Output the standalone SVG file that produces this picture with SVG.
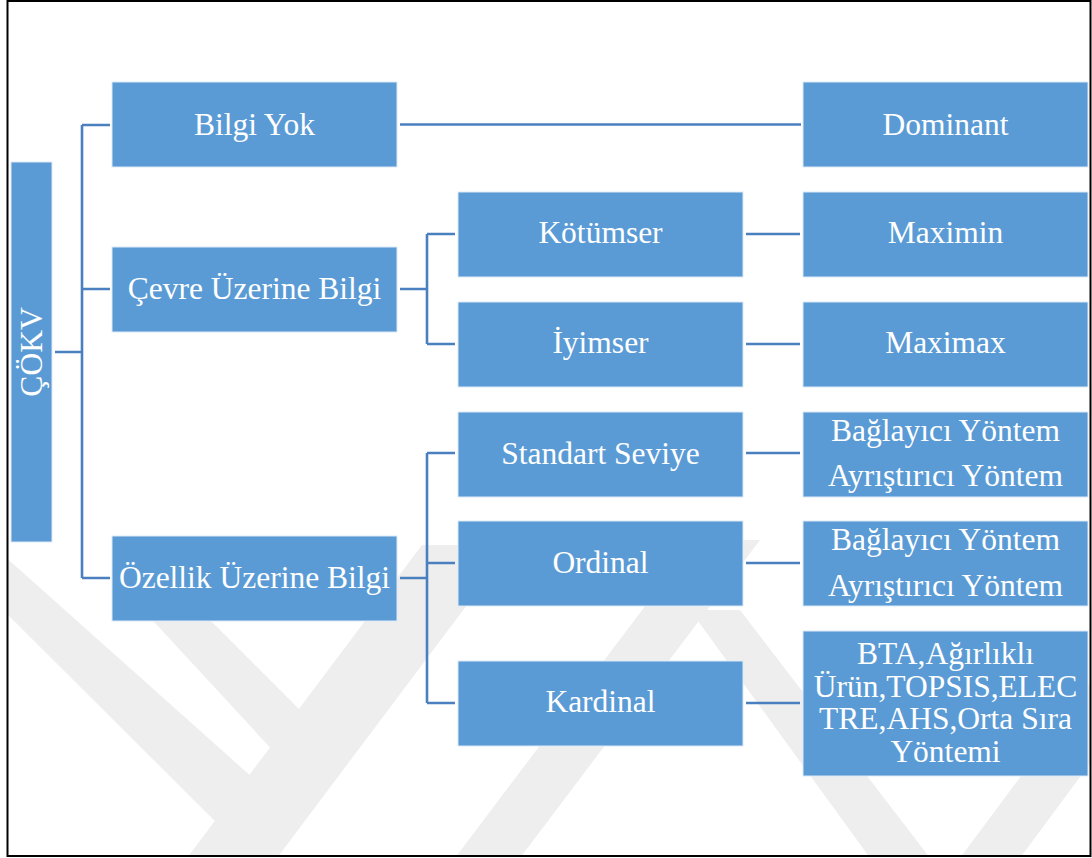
<svg xmlns="http://www.w3.org/2000/svg" width="1092" height="858" viewBox="0 0 1092 858">
  <defs>
    <style>
      .box { fill: #5B9BD5; stroke: #DCE9F6; stroke-width: 1; }
      .lbl { font-family: "Liberation Serif", "Times New Roman", serif; font-size: 31.5px; fill: #FFFFFF; text-anchor: middle; }
      .conn { fill: none; stroke: #4A80BF; stroke-width: 2.6; }
      .wm { fill: #EEEEEE; }
    </style>
    <clipPath id="frame">
      <rect x="8" y="2" width="1082" height="853"/>
    </clipPath>
  </defs>

  <rect x="0" y="0" width="1092" height="858" fill="#FFFFFF"/>

  <!-- faint background emblem -->
  <g id="watermark" clip-path="url(#frame)">
    <polygon class="wm" points="0,552 0,607 252,858 300,820"/>
    <polygon class="wm" points="120,585 175,585 335,745 300,780"/>
    <polygon class="wm" points="187,858 277,858 512,545 422,545"/>
    <polygon class="wm" points="455,858 520,858 760,540 695,540"/>
    <polygon class="wm" points="690,610 740,610 930,858 870,858"/>
    <polygon class="wm" points="960,858 1020,858 1100,750 1100,670"/>
  </g>

  <!-- outer frame -->
  <rect x="7.5" y="1" width="1083" height="855" fill="none" stroke="#000000" stroke-width="2"/>

  <g id="connectors">
    <path class="conn" d="M55,352 H82 M82,125 V578 M82,125 H110 M82,289 H110 M82,578 H110"/>
    <path class="conn" d="M400,124.5 H801"/>
    <path class="conn" d="M400,289 H427 M427,234 V344 M427,234 H455 M427,344 H455"/>
    <path class="conn" d="M746,234 H800 M746,344 H800"/>
    <path class="conn" d="M400,578 H427 M427,453 V703 M427,453 H455 M427,563 H455 M427,703 H455"/>
    <path class="conn" d="M746,453 H800 M746,563 H800 M746,703 H800"/>
  </g>

  <g id="cokv">
    <rect class="box" x="11" y="162" width="41" height="380"/>
    <text class="lbl" transform="translate(41.5,352) rotate(-90)">ÇÖKV</text>
  </g>

  <g id="bilgi-yok">
    <rect class="box" x="112" y="82" width="285" height="85"/>
    <text class="lbl" x="254.5" y="135">Bilgi Yok</text>
  </g>
  <g id="cevre-uzerine-bilgi">
    <rect class="box" x="112" y="247" width="285" height="85"/>
    <text class="lbl" x="254.5" y="299">Çevre Üzerine Bilgi</text>
  </g>
  <g id="ozellik-uzerine-bilgi">
    <rect class="box" x="112" y="536" width="285" height="85"/>
    <text class="lbl" x="254.5" y="588">Özellik Üzerine Bilgi</text>
  </g>

  <g id="kotumser">
    <rect class="box" x="458" y="192" width="285" height="85"/>
    <text class="lbl" x="600.5" y="243">Kötümser</text>
  </g>
  <g id="iyimser">
    <rect class="box" x="458" y="302" width="285" height="85"/>
    <text class="lbl" x="600.5" y="353">İyimser</text>
  </g>
  <g id="standart-seviye">
    <rect class="box" x="458" y="412" width="285" height="85"/>
    <text class="lbl" x="600.5" y="464">Standart Seviye</text>
  </g>
  <g id="ordinal">
    <rect class="box" x="458" y="521" width="285" height="85"/>
    <text class="lbl" x="600.5" y="573">Ordinal</text>
  </g>
  <g id="kardinal">
    <rect class="box" x="458" y="661" width="285" height="85"/>
    <text class="lbl" x="600.5" y="712">Kardinal</text>
  </g>

  <g id="dominant">
    <rect class="box" x="803" y="82" width="285" height="85"/>
    <text class="lbl" x="945.5" y="135">Dominant</text>
  </g>
  <g id="maximin">
    <rect class="box" x="803" y="192" width="285" height="85"/>
    <text class="lbl" x="945.5" y="243">Maximin</text>
  </g>
  <g id="maximax">
    <rect class="box" x="803" y="302" width="285" height="85"/>
    <text class="lbl" x="945.5" y="353">Maximax</text>
  </g>
  <g id="yontem-standart">
    <rect class="box" x="803" y="412" width="285" height="85"/>
    <text class="lbl" x="945.5" y="440.5">Bağlayıcı Yöntem</text>
    <text class="lbl" x="945.5" y="486">Ayrıştırıcı Yöntem</text>
  </g>
  <g id="yontem-ordinal">
    <rect class="box" x="803" y="521" width="285" height="85"/>
    <text class="lbl" x="945.5" y="550">Bağlayıcı Yöntem</text>
    <text class="lbl" x="945.5" y="596">Ayrıştırıcı Yöntem</text>
  </g>
  <g id="yontem-kardinal">
    <rect class="box" x="803" y="631" width="285" height="145"/>
    <text class="lbl" x="945.5" y="664">BTA,Ağırlıklı</text>
    <text class="lbl" x="945.5" y="697">Ürün,TOPSIS,ELEC</text>
    <text class="lbl" x="945.5" y="729">TRE,AHS,Orta Sıra</text>
    <text class="lbl" x="945.5" y="762">Yöntemi</text>
  </g>
</svg>
